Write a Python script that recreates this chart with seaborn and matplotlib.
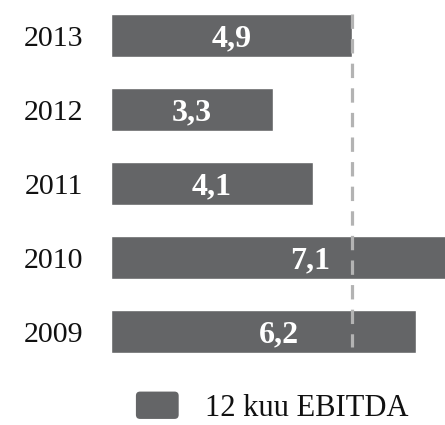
import matplotlib
matplotlib.use("Agg")
import matplotlib.pyplot as plt
import seaborn as sns
import pandas as pd
from matplotlib.patches import Patch, FancyBboxPatch
from matplotlib.legend_handler import HandlerPatch

years = ["2013", "2012", "2011", "2010", "2009"]
values = [4.9, 3.3, 4.1, 7.1, 6.2]
value_labels = ["4,9", "3,3", "4,1", "7,1", "6,2"]
label_pos_frac = [0.5, 0.5, 0.5, 0.57, 0.55]
legend_label = "12 kuu EBITDA"

sns.set_theme(style="white")
plt.rcParams["font.family"] = ["Liberation Serif", "DejaVu Serif"]

bar_color = "#646567"
df = pd.DataFrame({"year": years, "value": values})

fig = plt.figure(figsize=(4.45, 4.25), dpi=100)
ax = fig.add_axes([111 / 445, 1 - 370 / 425, 1 - 111 / 445, 370 / 425])

sns.barplot(data=df, x="value", y="year", order=years, orient="h",
            color=bar_color, saturation=1, width=0.58, ax=ax, zorder=2)

ax.set_xlim(0, (445 - 111) / 49.2)
ax.set_ylim(4.52, -0.48)

ref = values[0]
ax.plot([ref, ref], [-0.29, 4.21], color="#b3b3b3", lw=2.3,
        linestyle=(0, (4.5, 3.2)), zorder=3, solid_capstyle="butt")

for i, (v, lab, f) in enumerate(zip(values, value_labels, label_pos_frac)):
    ax.text(v * f, i + 0.04, lab, ha="center", va="center", color="white",
            fontsize=23, fontweight="bold", zorder=4)

ax.set_xlabel("")
ax.set_ylabel("")
ax.set_xticks([])
ax.tick_params(axis="y", length=0, pad=20, labelsize=21.5, labelcolor="#111111")
for s in ax.spines.values():
    s.set_visible(False)


class RoundHandler(HandlerPatch):
    def create_artists(self, legend, orig_handle, xdescent, ydescent,
                       width, height, fontsize, trans):
        p = FancyBboxPatch((-xdescent + 2, -ydescent + 2), width - 4, height - 4,
                           boxstyle="round,pad=2,rounding_size=3",
                           facecolor=orig_handle.get_facecolor(),
                           edgecolor="none", transform=trans)
        return [p]


handle = Patch(facecolor=bar_color, edgecolor=bar_color)
fig.legend([handle], [legend_label], loc="center", bbox_to_anchor=(0.612, 0.042),
           frameon=False, fontsize=22, handlelength=1.4, handleheight=1.0,
           handletextpad=0.87, borderpad=0, labelcolor="#111111",
           handler_map={Patch: RoundHandler()})

fig.savefig("out.png", dpi=100)
